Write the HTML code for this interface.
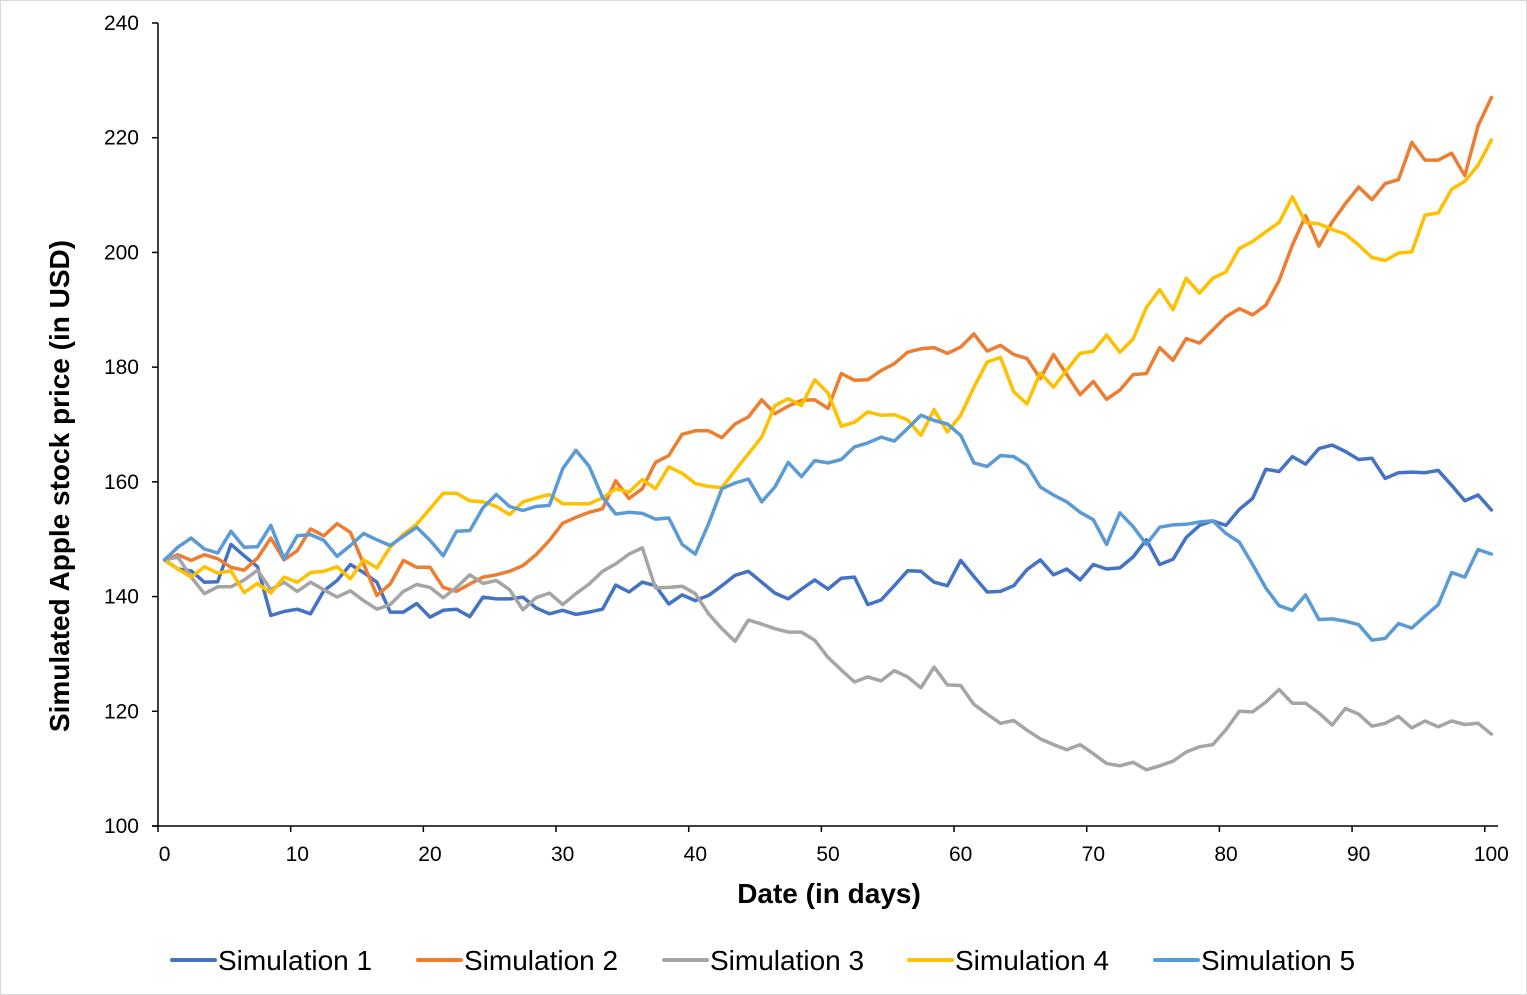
<!DOCTYPE html>
<html><head><meta charset="utf-8"><style>
html,body{margin:0;padding:0;background:#fff;}
svg{display:block;font-family:"Liberation Sans",Arial,sans-serif;}
</style></head><body>
<svg id="chart" width="1527" height="995" viewBox="0 0 1527 995" xmlns="http://www.w3.org/2000/svg">
<rect x="0.5" y="0.5" width="1526" height="994" fill="#fff" stroke="#d9d9d9"/>
<g id="grid"></g>
<g id="series"></g>
<g id="axes"></g>
<text x="69" y="486" transform="rotate(-90 69 486)" text-anchor="middle" font-size="28" font-weight="bold" fill="#000">Simulated Apple stock price (in USD)</text>
<text x="829" y="903" text-anchor="middle" font-size="28" font-weight="bold" fill="#000">Date (in days)</text>
<g id="legend"></g>
</svg>
<script>
const seriesNames = ["Simulation 1","Simulation 2","Simulation 3","Simulation 4","Simulation 5"];
const yTicks = [100,120,140,160,180,200,220,240];
const xTicks = [0,10,20,30,40,50,60,70,80,90,100];
const sim1 = [146.4,144.8,144.5,142.5,142.6,149.1,147.1,145.2,136.7,137.4,137.8,137,141,142.8,145.6,144.2,142.5,137.3,137.3,138.8,136.4,137.6,137.8,136.5,139.9,139.6,139.6,139.9,138,137,137.6,136.9,137.3,137.8,
142,140.8,142.5,141.9,138.7,140.3,139.3,140.2,141.9,143.7,144.4,142.5,140.6,139.6,141.3,142.9,141.3,143.2,143.4,138.6,139.4,141.9,144.5,144.4,142.5,141.9,146.3,143.5,140.8,140.9,141.9,144.7,146.4,
143.8,144.8,142.9,145.6,144.8,145,146.9,149.9,145.6,146.5,150.3,152.4,153.2,152.4,155.2,157.1,162.2,161.8,164.4,163.1,165.8,166.4,165.3,163.9,164.1,160.6,161.6,161.7,161.6,162,159.4,156.7,157.7,155.1];
const sim2 = [146.4,147.3,146.3,147.3,146.6,145.1,144.6,146.7,150.2,146.4,148,151.8,150.6,152.7,151.2,145.7,140.2,142.2,146.3,145.1,145.1,141.6,140.9,142.2,143.4,143.8,144.4,145.4,147.3,149.8,152.8,153.8,154.7,155.3,
160.2,157.1,158.8,163.4,164.6,168.3,168.9,168.9,167.7,170.1,171.3,174.3,171.9,173.2,174.2,174.3,172.8,178.9,177.7,177.8,179.4,180.6,182.6,183.2,183.4,182.4,183.5,185.8,182.8,183.8,182.2,181.5,178.0,
182.2,178.7,175.2,177.5,174.4,176,178.7,178.9,183.4,181.2,185,184.2,186.5,188.8,190.2,189.1,190.8,195.1,201.3,206.4,201.1,205.3,208.5,211.4,209.2,212,212.7,219.2,216.1,216.1,217.3,213.4,222.1,227];
const sim3 = [146.4,146.9,143.4,140.5,141.7,141.7,142.9,144.6,141.2,142.5,140.9,142.5,141.2,139.9,141,139.3,137.8,138.6,140.9,142.1,141.6,139.8,141.6,143.8,142.3,142.8,141.2,137.7,139.8,140.6,138.6,140.5,142.2,144.4,
145.7,147.4,148.5,141.5,141.6,141.8,140.5,137,134.4,132.2,135.9,135.2,134.4,133.8,133.8,132.4,129.4,127.2,125.1,126,125.3,127.1,126,124.1,127.7,124.6,124.5,121.2,119.5,117.9,118.4,116.7,115.2,
114.2,113.3,114.2,112.6,110.9,110.5,111.1,109.8,110.5,111.3,112.9,113.8,114.2,116.8,120,119.9,121.6,123.8,121.4,121.4,119.7,117.6,120.5,119.5,117.4,117.9,119.1,117.1,118.3,117.3,118.3,117.7,117.9,116];
const sim4 = [146.3,144.8,143.4,145.2,144.1,144.5,140.7,142.3,140.6,143.4,142.5,144.2,144.4,145.2,143.1,146.4,145,148.6,150.9,152.6,155.3,158,158,156.7,156.5,155.7,154.3,156.5,157.2,157.8,156.2,156.2,156.2,157.2,
158.8,158.2,160.4,158.8,162.6,161.5,159.7,159.2,159,162,164.9,167.8,173.3,174.5,173.3,177.8,175.5,169.7,170.4,172.2,171.6,171.7,170.8,168.1,172.6,168.7,171.6,176.5,180.9,181.7,175.7,173.6,179,
176.5,179.5,182.4,182.8,185.6,182.6,184.9,190.4,193.5,190,195.5,192.9,195.5,196.6,200.7,201.9,203.6,205.2,209.7,205.2,205,204,203.2,201.3,199.1,198.6,199.9,200.1,206.5,206.9,211,212.4,215.2,219.6];
const sim5 = [146.4,148.6,150.2,148.3,147.6,151.4,148.6,148.7,152.4,146.6,150.6,150.8,149.8,147,148.9,151,149.9,148.9,150.5,152.1,149.8,147.1,151.4,151.5,155.5,157.8,155.7,155,155.7,155.9,162.3,165.5,162.7,157.3,
154.4,154.7,154.5,153.5,153.7,149.1,147.4,152.7,158.8,159.8,160.5,156.5,159.1,163.4,160.9,163.7,163.3,163.9,166.1,166.8,167.8,167.1,169.3,171.6,170.7,170.1,168.1,163.3,162.7,164.6,164.4,162.9,159.1,
157.7,156.5,154.7,153.4,149.1,154.6,152.2,149.1,152.1,152.5,152.6,153,153.2,151,149.5,145.6,141.5,138.4,137.6,140.3,136,136.1,135.7,135.1,132.4,132.7,135.3,134.5,136.6,138.6,144.2,143.4,148.2,147.4];
const allSeries = [sim1,sim2,sim3,sim4,sim5];
const colors = ["#4472C4","#ED7D31","#A5A5A5","#FFC000","#5B9BD5"];

const NS = "http://www.w3.org/2000/svg";
const PL = 158, PR = 1498, PT = 23, PB = 826;
const nCat = sim1.length;
const step = (PR - PL) / nCat;
function xPos(d){ return PL + step * (d + 0.5); }
function yPos(v){ return PB - (v - 100) / (240 - 100) * (PB - PT); }
function mk(tag, attrs, parent){ const e = document.createElementNS(NS, tag); for (const k in attrs) e.setAttribute(k, attrs[k]); parent.appendChild(e); return e; }

const axes = document.getElementById("axes");
const yAxis = mk("line", {x1:PL, y1:PT, x2:PL, y2:PB, stroke:"#000", "stroke-width":1.5}, axes);


const xAxis = mk("line", {x1:PL-6, y1:PB, x2:PR, y2:PB, stroke:"#000", "stroke-width":1.5}, axes);


yTicks.forEach(v => {
  const y = yPos(v);
  const t = mk("line", {x1:PL-6, y1:y, x2:PL, y2:y, stroke:"#000", "stroke-width":1.5}, axes);
  
  
  const l = mk("text", {x:139, y:y+7, "text-anchor":"end", "font-size":21, fill:"#000"}, axes);
  l.textContent = v;
  
  
});
xTicks.forEach(d => {
  const tx = PL + step * d;
  const t = mk("line", {x1:tx, y1:PB, x2:tx, y2:PB+6, stroke:"#000", "stroke-width":1.5}, axes);
  
  
  const l = mk("text", {x:xPos(d), y:861, "text-anchor":"middle", "font-size":21, fill:"#000"}, axes);
  l.textContent = d;
  
  
});

const sg = document.getElementById("series");
allSeries.forEach((s, i) => {
  const pts = s.map((v, d) => xPos(d).toFixed(1) + "," + yPos(v).toFixed(1)).join(" ");
  const p = mk("polyline", {points:pts, fill:"none", stroke:colors[i], "stroke-width":3.5, "stroke-linejoin":"round", "stroke-linecap":"round"}, sg);
  
  
});

const lg = document.getElementById("legend");
const legX = [172, 418, 664, 909, 1155];
seriesNames.forEach((n, i) => {
  const g = mk("g", {}, lg);
  
  
  mk("line", {x1:legX[i], y1:960, x2:legX[i]+43, y2:960, stroke:colors[i], "stroke-width":4, "stroke-linecap":"round"}, g);
  const t = mk("text", {x:legX[i]+46, y:970, "font-size":28, fill:"#000"}, g);
  t.textContent = n;
});
</script>
</body></html>
